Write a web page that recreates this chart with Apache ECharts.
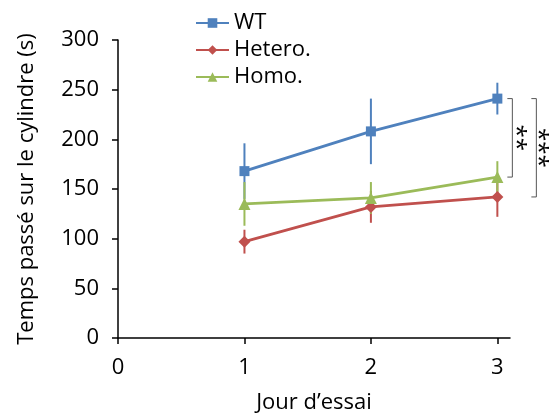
<!DOCTYPE html>
<html>
<head>
<meta charset="utf-8">
<script src="https://cdn.jsdelivr.net/npm/echarts@6/dist/echarts.min.js"></script>
<style>html,body{margin:0;padding:0;background:#fff}#c{width:550px;height:414px}</style>
</head>
<body>
<div id="c"></div>
<script>
const days = [1, 2, 3];
const xTicks = [0, 1, 2, 3];
const seriesNames = ['WT', 'Hetero.', 'Homo.'];
const wtMean = [168, 208, 241];
const wtErr = [28, 33, 16];
const heteroMean = [97, 132, 142];
const heteroErr = [12, 16, 20];
const homoMean = [135, 141, 162];
const homoErr = [22, 16, 16];
const sigDay = 3;
const sigTop = [241, 241];
const sigBottom = [162, 142];
const sigLabels = ['**', '***'];

const FONT = 'Open Sans';
const colors = ['#4f81bd', '#c0504d', '#9bbb59'];
const symbols = ['rect', 'diamond', 'triangle'];
const symSizes = [10, 12, 12];
const means = [wtMean, heteroMean, homoMean];
const errs = [wtErr, heteroErr, homoErr];

const series = [];
seriesNames.forEach((name, k) => {
  series.push({
    type: 'custom',
    name: name + ' err',
    clip: false,
    encode: { x: 0, y: [1, 2] },
    data: days.map((d, i) => [d, means[k][i] - errs[k][i], means[k][i] + errs[k][i]]),
    renderItem: (params, api) => {
      const p1 = api.coord([api.value(0), api.value(1)]);
      const p2 = api.coord([api.value(0), api.value(2)]);
      return { type: 'line', shape: { x1: p1[0], y1: p1[1], x2: p2[0], y2: p2[1] },
        style: { stroke: colors[k], lineWidth: 2 } };
    }
  });
  series.push({
    type: 'line',
    name: name,
    data: days.map((d, i) => [d, means[k][i]]),
    symbol: symbols[k],
    symbolSize: symSizes[k],
    showAllSymbol: true,
    lineStyle: { color: colors[k], width: 2.8 },
    itemStyle: { color: colors[k] },
    emphasis: { disabled: true }
  });
});

const armIn = [10, 34];
const armOut = [15, 39];
const textOff = [18, 40];
series.push({
  type: 'custom',
  name: 'sig',
  clip: false,
  encode: { x: 0, y: [1, 2] },
  data: sigTop.map((t, i) => [sigDay, t, sigBottom[i], i]),
  renderItem: (params, api) => {
    const i = api.value(3);
    const top = api.coord([api.value(0), api.value(1)]);
    const bot = api.coord([api.value(0), api.value(2)]);
    const x0 = top[0];
    return {
      type: 'group',
      children: [
        { type: 'polyline', shape: { points: [[x0 + armIn[i], top[1]], [x0 + armOut[i], top[1]], [x0 + armOut[i], bot[1]], [x0 + armIn[i], bot[1]]] },
          style: { stroke: '#555', lineWidth: 1, fill: null } },
        { type: 'text', x: x0 + textOff[i], y: (top[1] + bot[1]) / 2, rotation: -Math.PI / 2,
          style: { text: sigLabels[i], fontSize: 24, fontFamily: FONT, fill: '#000', align: 'center', verticalAlign: 'middle' } }
      ]
    };
  }
});

const chart = echarts.init(document.getElementById('c'), null, { renderer: 'canvas' });
chart.setOption({
  animation: false,
  backgroundColor: '#fff',
  textStyle: { fontFamily: FONT },
  grid: { left: 118, right: 40, top: 40, bottom: 76, containLabel: false, outerBoundsMode: 'none' },
  legend: {
    data: seriesNames,
    orient: 'vertical',
    left: 190, top: 7,
    itemWidth: 33, itemHeight: 12, itemGap: 5,
    textStyle: { fontSize: 22, fontFamily: FONT, color: '#000' },
    selectedMode: false
  },
  xAxis: {
    type: 'value', min: 0, max: 3.1, interval: 1,
    name: 'Jour d’essai', nameLocation: 'middle', nameGap: 54,
    nameTextStyle: { fontSize: 22, fontFamily: FONT, color: '#000' },
    axisLine: { lineStyle: { color: '#000', width: 1.5 } },
    axisTick: { show: true, length: 6, lineStyle: { color: '#000', width: 1.5 }, customValues: xTicks },
    axisLabel: { fontSize: 22, fontFamily: FONT, color: '#000', margin: 19, customValues: xTicks },
    splitLine: { show: false }
  },
  yAxis: {
    type: 'value', min: 0, max: 300, interval: 50,
    name: 'Temps passé sur le cylindre (s)', nameLocation: 'middle', nameGap: 80,
    nameTextStyle: { fontSize: 22, fontFamily: FONT, color: '#000' },
    axisLine: { show: true, lineStyle: { color: '#000', width: 1.5 } },
    axisTick: { show: true, length: 6, lineStyle: { color: '#000', width: 1.5 } },
    axisLabel: { fontSize: 22, fontFamily: FONT, color: '#000', margin: 19 },
    splitLine: { show: false }
  },
  series: series
});
</script>
</body>
</html>
